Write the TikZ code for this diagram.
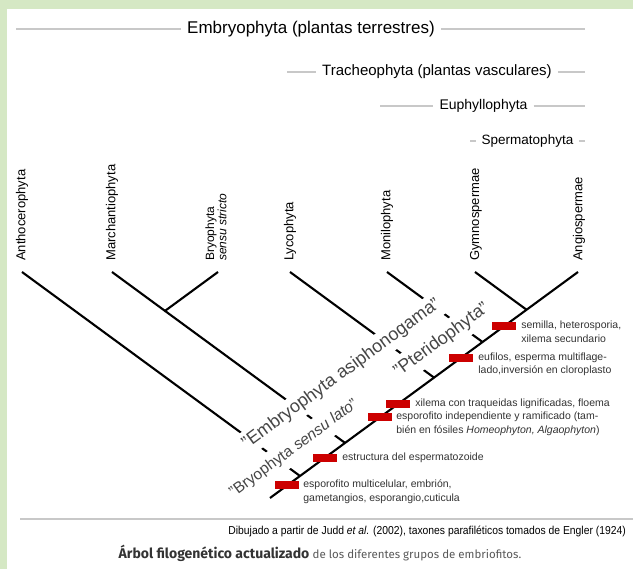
\documentclass[tikz,border=0pt]{standalone}
\usepackage{fontspec}
\setmainfont{Liberation Sans}
\newfontfamily\firafont{Fira Sans}
\usepackage{tikz}
\usetikzlibrary{positioning}
\definecolor{bordegreen}{RGB}{213,232,196}
\definecolor{linegray}{RGB}{200,200,200}
\definecolor{boxred}{RGB}{204,0,0}
\definecolor{cladegray}{RGB}{70,70,70}
\tikzset{
	rednode/.style={rectangle, fill=boxred, minimum width=24pt, minimum height=8pt, inner sep=0pt},
	taxonnode/.style={rotate=90, anchor=west, inner sep=0pt, font=\fontsize{13}{13}\selectfont},
	cladenode/.style={rotate=36.3, fill=white, inner xsep=2pt, inner ysep=0pt, text=cladegray},
	groupnode/.style={inner xsep=6pt, inner ysep=0pt, text=black},
	charnode/.style={inner sep=0pt, align=left, text=black!80, font=\fontsize{10.5}{13.5}\selectfont},
	grayline/.style={linegray, line width=2pt},
	treeline/.style={black, line width=2.1pt}
}
\begin{document}
\begin{tikzpicture}[x=1pt, y=-1pt]
	\useasboundingbox (0,0) rectangle (633,569);
	\fill[white] (0,0) rectangle (633,569);
	\fill[bordegreen] (0,0) rectangle (633,9);
	\fill[bordegreen] (0,0) rectangle (7,569);

	\node[groupnode, font=\fontsize{17}{17}\selectfont] (embryo) at (311,29) {Embryophyta (plantas terrestres)};
	\node[groupnode, font=\fontsize{15}{15}\selectfont] (traqueo) at (437,72) {Tracheophyta (plantas vasculares)};
	\node[groupnode, font=\fontsize{14}{14}\selectfont] (eufilo) at (483.5,106) {Euphyllophyta};
	\node[groupnode, font=\fontsize{13.5}{13.5}\selectfont] (esperma) at (527.5,141) {Spermatophyta};
	\coordinate (embryoL) at (16,29);
	\coordinate (embryoR) at (585,29);
	\coordinate (traqueoL) at (287,72);
	\coordinate (traqueoR) at (585,72);
	\coordinate (eufiloL) at (380,106);
	\coordinate (eufiloR) at (585,106);
	\coordinate (espermaL) at (470,141);
	\coordinate (espermaR) at (585,141);
	\draw[grayline] (embryoL) -- (embryo);
	\draw[grayline] (embryo) -- (embryoR);
	\draw[grayline] (traqueoL) -- (traqueo);
	\draw[grayline] (traqueo) -- (traqueoR);
	\draw[grayline] (eufiloL) -- (eufilo);
	\draw[grayline] (eufilo) -- (eufiloR);
	\draw[grayline] (espermaL) -- (esperma);
	\draw[grayline] (esperma) -- (espermaR);

	\node[taxonnode] (antho) at (22,261) {Anthocerophyta};
	\node[taxonnode] (marchan) at (112,261) {Marchantiophyta};
	\node[taxonnode, align=left, font=\fontsize{12}{10.5}\selectfont] (bryo) at (216,261) {Bryophyta\\\textit{sensu stricto}};
	\node[taxonnode] (lyco) at (290,261) {Lycophyta};
	\node[taxonnode] (monilo) at (387,261) {Monilophyta};
	\node[taxonnode] (gymno) at (476,261) {Gymnospermae};
	\node[taxonnode] (angio) at (579,261) {Angiospermae};

	\coordinate (tipAn) at (22,272);
	\coordinate (tipMa) at (112,272);
	\coordinate (tipBr) at (218,272);
	\coordinate (tipLy) at (290,272);
	\coordinate (tipMo) at (387,272);
	\coordinate (tipGy) at (475,272);
	\coordinate (tipAg) at (578,272);
	\coordinate (nodeMB) at (165,310.9);
	\coordinate (base) at (270,498);
	\coordinate (jAn) at (300,476);
	\coordinate (jMB) at (345,442.9);
	\coordinate (jLy) at (434,377.6);
	\coordinate (jMo) at (482.5,342);
	\coordinate (jGy) at (526.5,309.7);

	\draw[treeline] (base) -- (tipAg);
	\draw[treeline] (tipAn) -- (jAn);
	\draw[treeline] (tipMa) -- (nodeMB) -- (tipBr);
	\draw[treeline] (nodeMB) -- (jMB);
	\draw[treeline] (tipLy) -- (jLy);
	\draw[treeline] (tipMo) -- (jMo);
	\draw[treeline] (tipGy) -- (jGy);

	\node[cladenode, minimum height=25pt, font=\fontsize{18}{18}\selectfont] (asipho) at (341.6,374.1) {"Embryophyta asiphonogama"};
	\node[cladenode, minimum height=27pt, font=\fontsize{15.5}{15.5}\selectfont] (bryosl) at (294,448.7) {"Bryophyta \textit{sensu lato}"};
	\node[cladenode, minimum height=27pt, font=\fontsize{18}{18}\selectfont] (pterido) at (441.6,340.2) {"Pteridophyta"};

	\node[rednode] (box1) at (287,485.5) {};
	\node[rednode] (box2) at (325,457.6) {};
	\node[rednode] (box3) at (380,417.3) {};
	\node[rednode] (box4) at (398,404) {};
	\node[rednode] (box5) at (461,357.8) {};
	\node[rednode] (box6) at (504,326.2) {};

	\node[charnode, anchor=north west] (car1) at ([xshift=4pt, yshift=5.5pt]box1.east) {esporofito multicelular, embrión,\\gametangios, esporangio,cuticula};
	\node[charnode, right=5pt of box2] (car2) {estructura del espermatozoide};
	\node[charnode, anchor=north west] (car3) at ([xshift=4pt, yshift=5.5pt]box3.east) {esporofito independiente y ramificado (tam-\\bién en fósiles \textit{Homeophyton, Algaophyton})};
	\node[charnode, right=5pt of box4] (car4) {xilema con traqueidas lignificadas, floema};
	\node[charnode, anchor=north west] (car5) at ([xshift=5pt, yshift=5.5pt]box5.east) {eufilos, esperma multiflage-\\lado,inversión en cloroplasto};
	\node[charnode, anchor=north west] (car6) at ([xshift=5pt, yshift=5.5pt]box6.east) {semilla, heterosporia,\\xilema secundario};

	\coordinate (sepL) at (20,519);
	\coordinate (sepR) at (633,519);
	\draw[linegray, line width=1.5pt] (sepL) -- (sepR);
	\node[anchor=east, inner sep=0pt, font=\fontsize{11.5}{11.5}\selectfont] (fuente) at (626,531) {\scalebox{0.9}[1]{Dibujado a partir de Judd \textit{et al.} (2002), taxones parafiléticos tomados de Engler (1924)}};
	\node[inner sep=0pt] (pie) at (320,553) {\firafont\color{black!80}\fontsize{14}{14}\selectfont\bfseries Árbol filogenético actualizado \mdseries\fontsize{11.5}{11.5}\selectfont\color{black!65}de los diferentes grupos de embriofitos.};
\end{tikzpicture}
\end{document}
